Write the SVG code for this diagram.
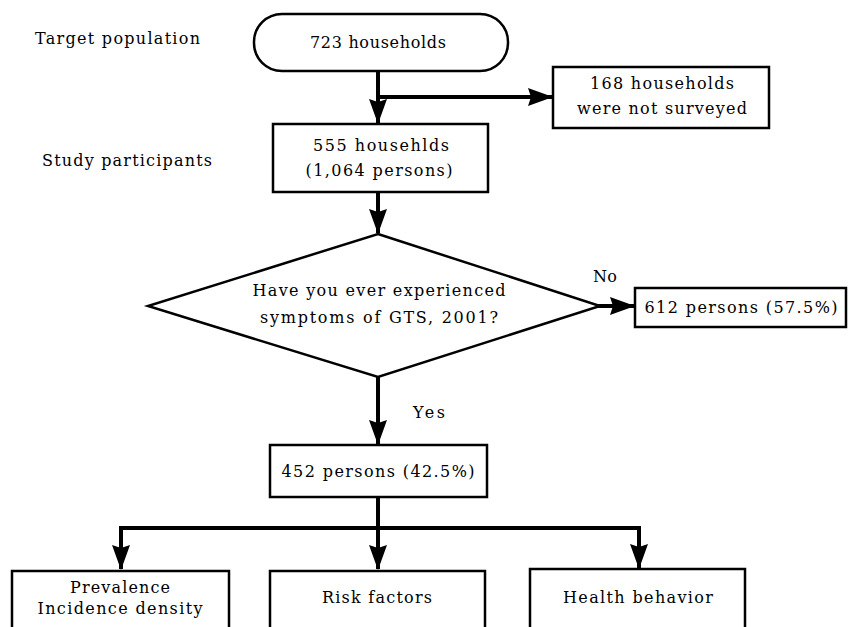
<svg xmlns="http://www.w3.org/2000/svg" width="853" height="627" viewBox="0 0 853 627">
<defs>
<marker id="ah" markerUnits="userSpaceOnUse" markerWidth="26" markerHeight="18" refX="24" refY="9" orient="auto">
<path d="M0,0 L25,9 L0,18 L3,9 z" fill="#000"/>
</marker>
<style>
.box{fill:#fff;stroke:#000;stroke-width:2.5}
.t{text-anchor:middle}
.c{stroke:#000;stroke-width:4;fill:none}
</style>
</defs>
<rect width="853" height="627" fill="#fff"/>
<g font-family="DejaVu Serif, Liberation Serif, serif" font-size="16" fill="#000">
<g id="labels">
<text x="35" y="44" textLength="165" lengthAdjust="spacing">Target population</text>
<text x="42" y="166" textLength="170" lengthAdjust="spacing">Study participants</text>
</g>
<g id="connectors">
<line class="c" x1="378" y1="71" x2="378" y2="123" marker-end="url(#ah)"/>
<line class="c" x1="378" y1="97" x2="552" y2="97" marker-end="url(#ah)"/>
<line class="c" x1="378" y1="192" x2="378" y2="233" marker-end="url(#ah)"/>
<line class="c" x1="598" y1="306" x2="634" y2="306" marker-end="url(#ah)"/>
<line class="c" x1="378" y1="377" x2="378" y2="444" marker-end="url(#ah)"/>
<line class="c" x1="378" y1="497" x2="378" y2="569" marker-end="url(#ah)"/>
<polyline class="c" points="121,560 121,528 639,528 639,560"/>
<line class="c" x1="121" y1="530" x2="121" y2="569" marker-end="url(#ah)"/>
<line class="c" x1="639" y1="530" x2="639" y2="568" marker-end="url(#ah)"/>
<text x="593" y="282" textLength="24" lengthAdjust="spacing">No</text>
<text x="413" y="418" textLength="32" lengthAdjust="spacing">Yes</text>
</g>
<g id="n723">
<rect class="box" x="254" y="14" width="254" height="57" rx="28" ry="28"/>
<text class="t" x="378" y="48" textLength="136" lengthAdjust="spacing">723 households</text>
</g>
<g id="n168">
<rect class="box" x="553" y="67" width="216" height="61"/>
<text class="t" x="662" y="89" textLength="144" lengthAdjust="spacing">168 households</text>
<text class="t" x="662" y="114" textLength="170" lengthAdjust="spacing">were not surveyed</text>
</g>
<g id="n555">
<rect class="box" x="273" y="124" width="215" height="68"/>
<text class="t" x="381" y="151" textLength="136" lengthAdjust="spacing">555 househlds</text>
<text class="t" x="379" y="176" textLength="147" lengthAdjust="spacing">(1,064 persons)</text>
</g>
<g id="decision">
<polygon class="box" points="378,234 600,306 378,377 148,306"/>
<text class="t" x="379" y="296" textLength="253" lengthAdjust="spacing">Have you ever experienced</text>
<text class="t" x="379" y="323" textLength="238" lengthAdjust="spacing">symptoms of GTS, 2001?</text>
</g>
<g id="n612">
<rect class="box" x="635" y="288" width="211" height="39"/>
<text class="t" x="741" y="313" textLength="193" lengthAdjust="spacing">612 persons (57.5%)</text>
</g>
<g id="n452">
<rect class="box" x="270" y="445" width="217" height="52"/>
<text class="t" x="378" y="477" textLength="193" lengthAdjust="spacing">452 persons (42.5%)</text>
</g>
<g id="prevalence">
<rect class="box" x="12" y="571" width="217" height="70"/>
<text class="t" x="120" y="593" textLength="100" lengthAdjust="spacing">Prevalence</text>
<text class="t" x="120" y="614" textLength="165" lengthAdjust="spacing">Incidence density</text>
</g>
<g id="risk">
<rect class="box" x="270" y="571" width="215" height="70"/>
<text class="t" x="377" y="603" textLength="110" lengthAdjust="spacing">Risk factors</text>
</g>
<g id="health">
<rect class="box" x="530" y="569" width="215" height="72"/>
<text class="t" x="638" y="603" textLength="150" lengthAdjust="spacing">Health behavior</text>
</g>
</g>
</svg>
